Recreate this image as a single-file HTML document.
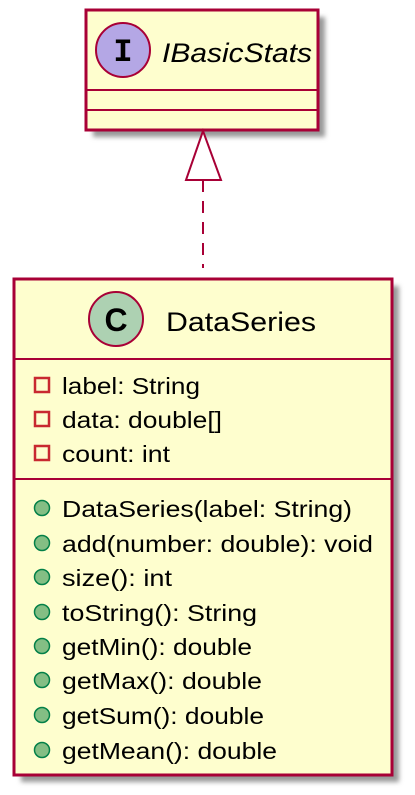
<!DOCTYPE html>
<html><head><style>html,body{margin:0;padding:0;background:#fff;}svg{display:block}</style></head>
<body>
<svg width="415" height="795" xmlns="http://www.w3.org/2000/svg" font-family="Liberation Sans, sans-serif">
<defs><filter id="sh" x="-10%" y="-10%" width="130%" height="130%"><feGaussianBlur stdDeviation="2.5"/></filter></defs>
<rect x="93" y="17" width="232" height="120" fill="#999" filter="url(#sh)"/>
<rect x="21" y="286" width="378" height="496" fill="#999" filter="url(#sh)"/>
<rect x="86" y="10" width="232" height="120" fill="#FEFECE" stroke="#A80036" stroke-width="3"/>
<line x1="86" y1="90" x2="318" y2="90" stroke="#A80036" stroke-width="2"/>
<line x1="86" y1="110" x2="318" y2="110" stroke="#A80036" stroke-width="2"/>
<circle cx="123" cy="50" r="27" fill="#B4A7E5" stroke="#A80036" stroke-width="2"/>
<text x="123" y="61" font-size="32" font-weight="bold" text-anchor="middle" font-family="Liberation Mono, monospace">I</text>
<text x="162" y="62" font-size="27" font-style="italic" textLength="150" lengthAdjust="spacingAndGlyphs">IBasicStats</text>
<line x1="203" y1="180" x2="203" y2="268" stroke="#A80036" stroke-width="2" stroke-dasharray="12,9"/>
<polygon points="203,131 186,180 221,180" fill="#fff" stroke="#A80036" stroke-width="2"/>
<rect x="14" y="279" width="378" height="496" fill="#FEFECE" stroke="#A80036" stroke-width="3"/>
<line x1="14" y1="359" x2="392" y2="359" stroke="#A80036" stroke-width="2"/>
<line x1="14" y1="479" x2="392" y2="479" stroke="#A80036" stroke-width="2"/>
<circle cx="116" cy="319" r="27" fill="#ADD1B2" stroke="#A80036" stroke-width="2"/>
<text x="116" y="331" font-size="32" font-weight="bold" text-anchor="middle">C</text>
<text x="166" y="331" font-size="27" textLength="150" lengthAdjust="spacingAndGlyphs">DataSeries</text>
<g fill="none" stroke="#C82930" stroke-width="2.5">
<rect x="35" y="378" width="14" height="14"/>
<rect x="35" y="412" width="14" height="14"/>
<rect x="35" y="446" width="14" height="14"/>
</g>
<g font-size="23" fill="#000" lengthAdjust="spacingAndGlyphs">
<text x="62" y="394" textLength="138" lengthAdjust="spacingAndGlyphs">label: String</text>
<text x="62" y="428" textLength="160" lengthAdjust="spacingAndGlyphs">data: double[]</text>
<text x="62" y="462" textLength="108" lengthAdjust="spacingAndGlyphs">count: int</text>
<text x="62" y="517" textLength="290" lengthAdjust="spacingAndGlyphs">DataSeries(label: String)</text>
<text x="62" y="552" textLength="311" lengthAdjust="spacingAndGlyphs">add(number: double): void</text>
<text x="62" y="586" textLength="110" lengthAdjust="spacingAndGlyphs">size(): int</text>
<text x="62" y="621" textLength="195" lengthAdjust="spacingAndGlyphs">toString(): String</text>
<text x="62" y="655" textLength="190" lengthAdjust="spacingAndGlyphs">getMin(): double</text>
<text x="62" y="689" textLength="200" lengthAdjust="spacingAndGlyphs">getMax(): double</text>
<text x="62" y="724" textLength="202" lengthAdjust="spacingAndGlyphs">getSum(): double</text>
<text x="62" y="759" textLength="215" lengthAdjust="spacingAndGlyphs">getMean(): double</text>
</g>
<g fill="#84BE84" stroke="#038048" stroke-width="1.5">
<circle cx="42" cy="508" r="7.5"/><circle cx="42" cy="543" r="7.5"/>
<circle cx="42" cy="577" r="7.5"/><circle cx="42" cy="612" r="7.5"/>
<circle cx="42" cy="646" r="7.5"/><circle cx="42" cy="680" r="7.5"/>
<circle cx="42" cy="715" r="7.5"/><circle cx="42" cy="750" r="7.5"/>
</g>
</svg>
</body></html>
